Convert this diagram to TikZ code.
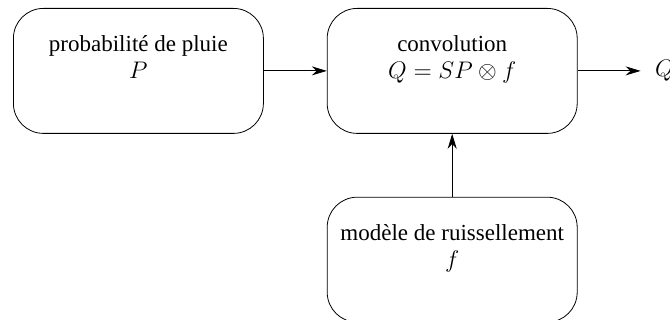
\documentclass[tikz,border=0pt]{standalone}
\usepackage{amsmath,amssymb}
\usepackage{fontspec}
\newfontfamily\romain{Liberation Serif}
\usepackage{tikz}
\usetikzlibrary{arrows.meta,positioning}

\begin{document}
\begin{tikzpicture}[
    bloc/.style={draw,rounded corners=15pt,minimum width=125pt,minimum height=62.5pt,inner sep=0pt},
    texte/.style={align=center,inner sep=0pt,font=\romain\fontsize{11.5}{13.5}\selectfont},
    fleche/.style={-{Stealth[length=7.5pt,width=4.5pt]}},
    node distance=31.5pt]
        \useasboundingbox (0,0) rectangle (335pt,-160pt);
        \node[bloc,anchor=north west] (proba) at (6.5pt,-4pt) {};
        \node[bloc,right=of proba] (conv) {};
        \node[bloc,below=of conv] (ruiss) {};
        \node[texte,below=13.5pt of proba.north] (probatxt) {probabilité de pluie\\$P$};
        \node[texte,below=13.5pt of conv.north] (convtxt) {convolution\\$Q=SP\otimes f$};
        \node[texte,below=13.5pt of ruiss.north] (ruisstxt) {modèle de ruissellement\\$f$};
        \node[texte,inner sep=7pt,right=of conv] (sortie) {$Q$};
        \draw[fleche] (proba) -- (conv);
        \draw[fleche] (conv) -- (sortie);
        \draw[fleche] (ruiss) -- (conv);
      \end{tikzpicture}
\end{document}
